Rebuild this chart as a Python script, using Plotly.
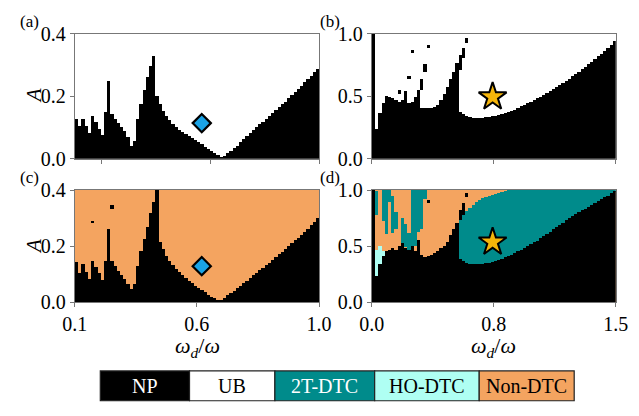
import plotly.graph_objects as go

# ---------------- colours / categories ----------------
categories = ["NP", "UB", "2T-DTC", "HO-DTC", "Non-DTC"]
cat_colors = ["#000000", "#FFFFFF", "#008B8B", "#AFFFF3", "#F4A460"]
C_NP, C_UB, C_2T, C_HO, C_NON = cat_colors

N_COLS = 76
range_ac = [0.1, 1.0]
range_bd = [0.0, 1.5]

# ---------------- panel (a): NP / UB boundary (top of NP per column) ----------------
A_a = [0.127, 0.105, 0.127, 0.105, 0.082, 0.139, 0.119, 0.097, 0.077, 0.149,
       0.251, 0.144, 0.129, 0.114, 0.101, 0.089, 0.069, 0.043, 0.057, 0.129,
       0.175, 0.220, 0.261, 0.299, 0.331, 0.202, 0.175, 0.155, 0.139, 0.124,
       0.111, 0.101, 0.094, 0.087, 0.081, 0.074, 0.067, 0.060, 0.053, 0.047,
       0.040, 0.033, 0.026, 0.019, 0.012, 0.005, 0.010, 0.018, 0.026, 0.035,
       0.043, 0.053, 0.063, 0.073, 0.083, 0.093, 0.102, 0.111, 0.120, 0.129,
       0.138, 0.147, 0.156, 0.166, 0.175, 0.184, 0.194, 0.204, 0.214, 0.224,
       0.234, 0.245, 0.256, 0.267, 0.278, 0.289]

# ---------------- panel (c): NP / Non-DTC boundary ----------------
A_c = [0.144, 0.104, 0.138, 0.107, 0.082, 0.149, 0.127, 0.104, 0.079, 0.146,
       0.262, 0.146, 0.129, 0.113, 0.099, 0.082, 0.065, 0.046, 0.065, 0.129,
       0.183, 0.226, 0.267, 0.318, 0.357, 0.400, 0.215, 0.189, 0.166, 0.149,
       0.133, 0.119, 0.107, 0.096, 0.087, 0.078, 0.069, 0.060, 0.052, 0.044,
       0.036, 0.028, 0.021, 0.015, 0.009, 0.009, 0.015, 0.025, 0.033, 0.042,
       0.051, 0.060, 0.069, 0.078, 0.087, 0.096, 0.105, 0.114, 0.123, 0.132,
       0.141, 0.151, 0.161, 0.171, 0.181, 0.191, 0.201, 0.211, 0.221, 0.231,
       0.241, 0.252, 0.263, 0.274, 0.286, 0.300]
c_np_islands = [(11, 0.331, 0.346), (5, 0.283, 0.288)]

# ---------------- panel (b): NP / UB ----------------
A_b = [1.0, 0.242, 0.369, 0.45, 0.505, 0.50, 0.487, 0.475, 0.46, 0.47,
       0.545, 0.45, 0.46, 0.50, 0.556, 0.41, 0.41, 0.41, 0.41, 0.415,
       0.43, 0.47, 0.52, 0.58, 0.64, 0.70, 0.77, 0.379, 0.361, 0.348,
       0.338, 0.331, 0.328, 0.328, 0.328, 0.333, 0.338, 0.343, 0.348, 0.354,
       0.359, 0.369, 0.376, 0.384, 0.396, 0.409, 0.422, 0.434, 0.447, 0.46,
       0.472, 0.485, 0.497, 0.515, 0.53, 0.545, 0.561, 0.576, 0.593, 0.609,
       0.624, 0.641, 0.662, 0.679, 0.699, 0.717, 0.737, 0.758, 0.775, 0.798,
       0.821, 0.843, 0.864, 0.889, 0.914, 0.944]
b_np_islands = [(8, 0.52, 0.556), (11, 0.64, 0.665), (12, 0.855, 0.87),
                (15, 0.556, 0.64), (16, 0.70, 0.757), (17, 0.894, 0.909),
                (27, 0.713, 0.83), (28, 0.81, 0.89), (29, 0.93, 0.967)]

# ---------------- panel (d): NP / 2T-DTC / HO-DTC / Non-DTC ----------------
A_d = [1.0, 0.233, 0.345, 0.416, 0.458, 0.47, 0.486, 0.463, 0.50, 0.528,
       0.486, 0.47, 0.50, 0.458, 0.556, 0.42, 0.407, 0.416, 0.424, 0.444,
       0.458, 0.48, 0.50, 0.54, 0.60, 0.655, 0.71, 0.39, 0.37, 0.355,
       0.345, 0.34, 0.34, 0.34, 0.345, 0.35, 0.355, 0.36, 0.37, 0.38,
       0.39, 0.40, 0.41, 0.425, 0.44, 0.455, 0.47, 0.485, 0.50, 0.52,
       0.535, 0.55, 0.57, 0.59, 0.61, 0.63, 0.65, 0.67, 0.69, 0.71,
       0.73, 0.75, 0.77, 0.785, 0.80, 0.82, 0.835, 0.85, 0.87, 0.885,
       0.90, 0.92, 0.935, 0.95, 0.97, 0.99]
d_2t_first_col = 27
d_2t_top = [0.73, 0.78, 0.81, 0.84, 0.87, 0.89, 0.91, 0.925, 0.935, 0.945,
            0.955, 0.965, 0.975, 0.985, 0.99, 1.0, 1.0, 1.0, 1.0, 1.0,
            1.0, 1.0, 1.0, 1.0, 1.0, 1.0, 1.0, 1.0, 1.0, 1.0,
            1.0, 1.0, 1.0, 1.0, 1.0, 1.0, 1.0, 1.0, 1.0, 1.0,
            1.0, 1.0, 1.0, 1.0, 1.0, 1.0, 1.0, 1.0, 1.0]
d_2t_patches = [(1, 0.78, 0.99), (3, 0.72, 1.0), (4, 0.61, 1.0), (5, 0.89, 1.0),
                (6, 0.62, 0.95), (7, 0.65, 0.80), (9, 0.50, 0.75), (10, 0.49, 0.70),
                (11, 0.47, 0.62), (12, 0.49, 1.0), (13, 0.50, 1.0), (14, 0.63, 1.0),
                (15, 0.65, 1.0), (16, 0.92, 1.0)]
d_ho_patches = [(1, 0.233, 0.47), (2, 0.345, 0.50), (3, 0.416, 0.46)]
d_np_islands = [(17, 0.88, 0.91), (27, 0.73, 0.82), (28, 0.78, 0.88), (29, 0.935, 0.977)]

# markers
diamond_a = (0.568, 0.114)
diamond_c = (0.568, 0.129)
star_b = (0.743, 0.495)
star_d = (0.743, 0.537)

# ---------------- helpers ----------------
W, H = 639, 416
FONT = "Liberation Serif"


def col_centers(rng, cols):
    d = (rng[1] - rng[0]) / N_COLS
    return [rng[0] + (c + 0.5) * d for c in cols]


def seg_bar(rng, cols, lo, hi, color, xa, ya):
    return go.Bar(x=col_centers(rng, cols), base=lo,
                  y=[h - l for l, h in zip(lo, hi)],
                  width=(rng[1] - rng[0]) / N_COLS,
                  marker=dict(color=color, line=dict(width=0)),
                  opacity=1, xaxis=xa, yaxis=ya, showlegend=False, hoverinfo="skip")


def islands(rng, lst, color, xa, ya):
    return seg_bar(rng, [t[0] for t in lst], [t[1] for t in lst], [t[2] for t in lst], color, xa, ya)


fig = go.Figure()
cols_all = list(range(N_COLS))

fig.add_trace(seg_bar(range_ac, cols_all, [0] * N_COLS, A_a, C_NP, "x", "y"))
fig.add_trace(seg_bar(range_bd, cols_all, [0] * N_COLS, A_b, C_NP, "x2", "y2"))
fig.add_trace(islands(range_bd, b_np_islands, C_NP, "x2", "y2"))
fig.add_trace(seg_bar(range_ac, cols_all, [0] * N_COLS, A_c, C_NP, "x3", "y3"))
fig.add_trace(islands(range_ac, c_np_islands, C_NP, "x3", "y3"))
cols_2t = list(range(d_2t_first_col, N_COLS))
fig.add_trace(seg_bar(range_bd, cols_2t, [A_d[c] for c in cols_2t], d_2t_top, C_2T, "x4", "y4"))
fig.add_trace(islands(range_bd, d_2t_patches, C_2T, "x4", "y4"))
fig.add_trace(islands(range_bd, d_ho_patches, C_HO, "x4", "y4"))
fig.add_trace(seg_bar(range_bd, cols_all, [0] * N_COLS, A_d, C_NP, "x4", "y4"))
fig.add_trace(islands(range_bd, d_np_islands, C_NP, "x4", "y4"))

for (px, py), xa, ya in [(diamond_a, "x", "y"), (diamond_c, "x3", "y3")]:
    fig.add_trace(go.Scatter(x=[px], y=[py], mode="markers", xaxis=xa, yaxis=ya,
                             marker=dict(symbol="diamond", size=14, color="#1AA3E6",
                                         line=dict(color="black", width=2.2)),
                             showlegend=False, hoverinfo="skip"))
for (px, py), xa, ya in [(star_b, "x2", "y2"), (star_d, "x4", "y4")]:
    fig.add_trace(go.Scatter(x=[px], y=[py], mode="markers", xaxis=xa, yaxis=ya,
                             marker=dict(symbol="star", size=21, color="#F5B50A",
                                         line=dict(color="black", width=2)),
                             showlegend=False, hoverinfo="skip"))


def px_x(a, b):
    return [a / W, b / W]


def px_y(top, bottom):
    return [1 - bottom / H, 1 - top / H]


axis_common = dict(showgrid=False, zeroline=False, showline=True, linecolor="#777777",
                   linewidth=1, mirror=True, ticks="outside", ticklen=4, tickwidth=1,
                   tickcolor="#777777", tickfont=dict(family=FONT, size=20, color="black"))

dom_x_left = px_x(64.3, 319)
dom_x_right = px_x(374, 628.3)
dom_y_top = px_y(24, 156)
dom_y_bot = px_y(189, 307.7)

fig.update_layout(
    xaxis=dict(domain=dom_x_left, range=range_ac, anchor="y", tickvals=[0.2, 0.6, 1.0],
               showticklabels=False, **axis_common),
    yaxis=dict(domain=dom_y_top, range=[0, 0.4], anchor="x", tickvals=[0, 0.2, 0.4],
               ticktext=["0.0", "0.2", "0.4"], **axis_common),
    xaxis2=dict(domain=dom_x_right, range=range_bd, anchor="y2", tickvals=[0, 0.75, 1.5],
                showticklabels=False, **axis_common),
    yaxis2=dict(domain=dom_y_top, range=[0, 1.0], anchor="x2", tickvals=[0, 0.5, 1.0],
                ticktext=["0.0", "0.5", "1.0"], **axis_common),
    xaxis3=dict(domain=dom_x_left, range=range_ac, anchor="y3", tickvals=[0.1, 0.55, 1.0],
                ticktext=["0.1", "0.6", "1.0"], **axis_common),
    yaxis3=dict(domain=dom_y_bot, range=[0, 0.4], anchor="x3", tickvals=[0, 0.2, 0.4],
                ticktext=["0.0", "0.2", "0.4"], **axis_common),
    xaxis4=dict(domain=dom_x_right, range=range_bd, anchor="y4", tickvals=[0, 0.75, 1.5],
                ticktext=["0.0", "0.8", "1.5"], **axis_common),
    yaxis4=dict(domain=dom_y_bot, range=[0, 1.0], anchor="x4", tickvals=[0, 0.5, 1.0],
                ticktext=["0.0", "0.5", "1.0"], **axis_common),
    barmode="overlay", bargap=0,
    width=W, height=H, margin=dict(l=0, r=0, t=0, b=0),
    paper_bgcolor="white", plot_bgcolor="white",
    font=dict(family=FONT, size=20, color="black"),
)

shapes = []
shapes.append(dict(type="rect", xref="x3", yref="y3", x0=range_ac[0], x1=range_ac[1], y0=0, y1=0.4,
                   fillcolor=C_NON, line=dict(width=0), layer="below"))
shapes.append(dict(type="rect", xref="x4", yref="y4", x0=range_bd[0], x1=range_bd[1], y0=0, y1=1.0,
                   fillcolor=C_NON, line=dict(width=0), layer="below"))

leg_edges = [91, 184, 273, 377, 486, 585]
leg_y0, leg_y1 = 1 - 411.5 / H, 1 - 380 / H
annotations = []
for i, name in enumerate(categories):
    x0, x1 = leg_edges[i] / W, leg_edges[i + 1] / W
    shapes.append(dict(type="rect", xref="paper", yref="paper", x0=x0, x1=x1, y0=leg_y0, y1=leg_y1,
                       fillcolor=cat_colors[i], line=dict(color="#222222", width=1.2)))
    annotations.append(dict(xref="paper", yref="paper", x=(x0 + x1) / 2, y=(leg_y0 + leg_y1) / 2,
                            text=name, showarrow=False, xanchor="center", yanchor="middle",
                            font=dict(family=FONT, size=20,
                                      color="white" if name in ("NP", "2T-DTC") else "black")))

for lab, x, y in [("(a)", 5, -1), ("(b)", 318, -1), ("(c)", 5, 164), ("(d)", 318, 164)]:
    annotations.append(dict(xref="paper", yref="paper", x=x / W, y=1 - y / H, text=lab,
                            showarrow=False, xanchor="left", yanchor="top",
                            font=dict(family=FONT, size=17)))
for yc in [90, 249]:
    annotations.append(dict(xref="paper", yref="paper", x=22 / W, y=1 - yc / H, text="<i>A</i>",
                            showarrow=False, xanchor="center", yanchor="middle", textangle=-90,
                            font=dict(family=FONT, size=21)))
for xc in [192, 501]:
    annotations.append(dict(xref="paper", yref="paper", x=xc / W, y=1 - 355 / H,
                            text="<i>ω</i><sub><i>d</i></sub>/<i>ω</i>",
                            showarrow=False, xanchor="center", yanchor="middle",
                            font=dict(family=FONT, size=22)))

fig.update_layout(shapes=shapes, annotations=annotations)
fig.write_html("out.html")
